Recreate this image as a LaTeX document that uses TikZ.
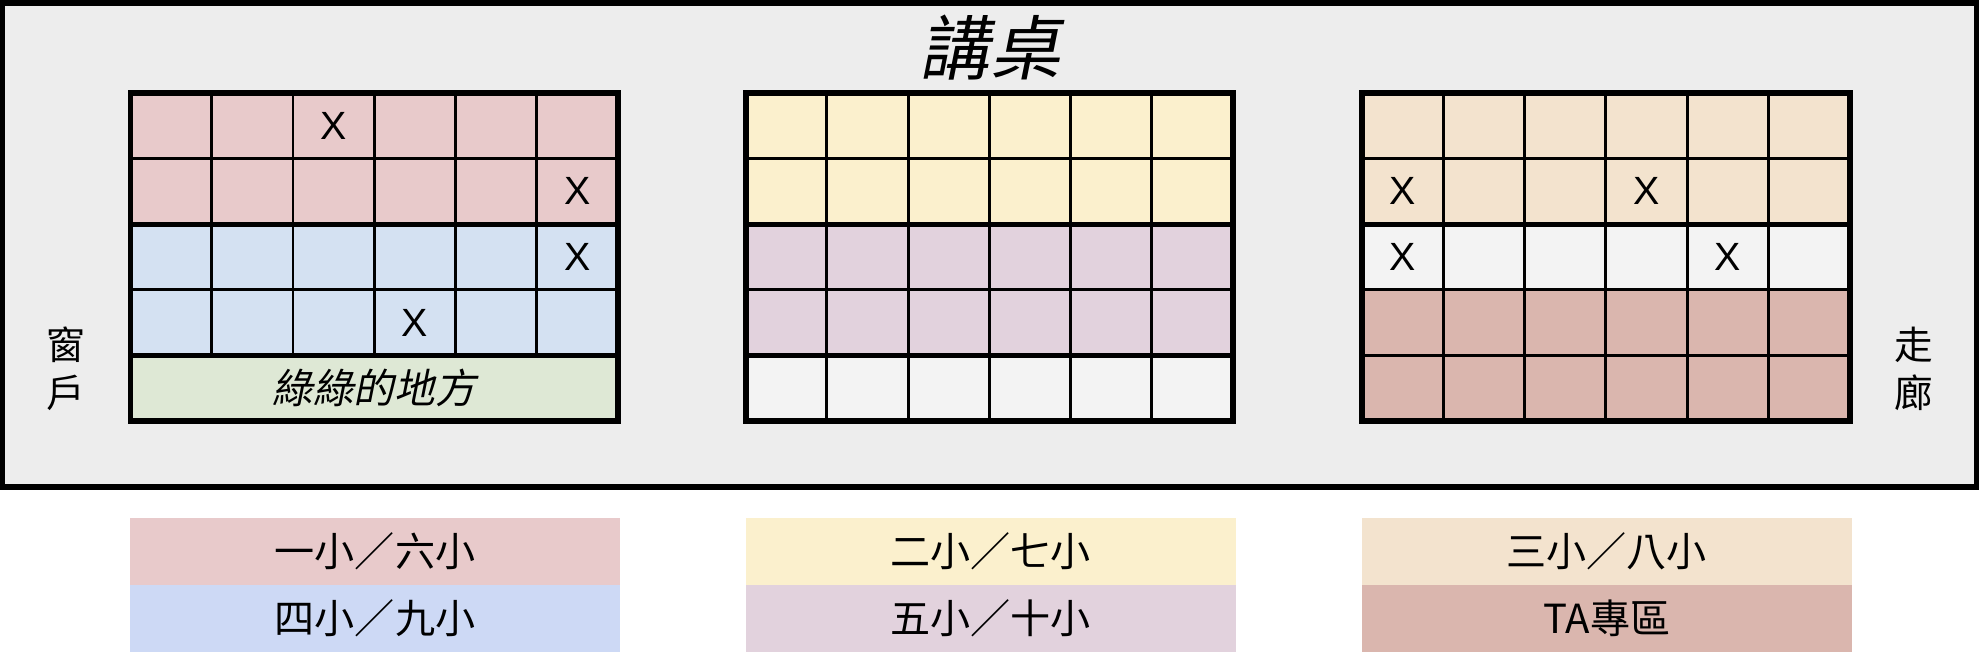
\documentclass[tikz,border=0pt]{standalone}
\usepackage{fontspec}
\setmainfont{Noto Sans CJK TC}
\newfontfamily\slantcjk[FakeSlant=0.2]{Noto Sans CJK TC}
\newfontfamily\seatfont{Liberation Sans}

\definecolor{roomgray}{HTML}{EDEDED}
\definecolor{pinkseat}{HTML}{E8CACB}
\definecolor{blueseat}{HTML}{D4E1F2}
\definecolor{bluekey}{HTML}{CDD9F5}
\definecolor{greenarea}{HTML}{DEE8D5}
\definecolor{yellowseat}{HTML}{FBF0CD}
\definecolor{mauveseat}{HTML}{E2D2DD}
\definecolor{emptyseat}{HTML}{F3F3F3}
\definecolor{beigeseat}{HTML}{F3E3CE}
\definecolor{taseat}{HTML}{DAB6AE}

\begin{document}
\begin{tikzpicture}[x=0.01cm,y=-0.01cm,
    roomframe/.style={draw=black,fill=roomgray,line width=1.7pt},
    blockframe/.style={draw=black,line width=1.7pt},
    rowsplit/.style={draw=black,line width=1.45pt},
    seatline/.style={draw=black,line width=0.85pt},
    taken/.style={font=\fontsize{11.2pt}{13pt}\selectfont\seatfont,inner sep=0pt},
    side/.style={font=\fontsize{11pt}{13.7pt}\selectfont,align=center,inner sep=0pt},
    key/.style={minimum width=4.9cm,minimum height=0.67cm,inner sep=0pt,
      font=\fontsize{11.4pt}{13pt}\selectfont}]
  \useasboundingbox (0,0) rectangle (1979,657);
  \def\cw{81.25}
  \def\rh{65.6}

  % classroom
  \draw[roomframe] (2.5,3) rectangle (1976.5,486.5);
  \node[font=\fontsize{20pt}{24pt}\selectfont,inner sep=0pt] (desk) at (990,47.5) {\slantcjk 講桌};
  \node[side] (window) at (65.5,369) {窗\\戶};
  \node[side] (hall) at (1913.5,369) {走\\廊};

  % left block
  \foreach \c [count=\r from 0] in {pinkseat,pinkseat,blueseat,blueseat,greenarea}
    \fill[\c] (130.5,93+\r*\rh) rectangle ++(487.5,\rh);
  \foreach \i in {1,...,5}
    \draw[seatline] (130.5+\i*\cw,93) -- ++(0,4*\rh);
  \foreach \r in {1,3}
    \draw[seatline] (130.5,93+\r*\rh) -- ++(487.5,0);
  \foreach \r in {2,4}
    \draw[rowsplit] (130.5,93+\r*\rh) -- ++(487.5,0);
  \draw[blockframe] (130.5,93) rectangle (618,421);
  \node[font=\fontsize{11.6pt}{13pt}\selectfont\slantcjk] (green) at (374.25,388.2) {綠綠的地方};

  % middle block
  \foreach \c [count=\r from 0] in {yellowseat,yellowseat,mauveseat,mauveseat,emptyseat}
    \fill[\c] (745.5,93+\r*\rh) rectangle ++(487.5,\rh);
  \foreach \i in {1,...,5}
    \draw[seatline] (745.5+\i*\cw,93) -- ++(0,5*\rh);
  \foreach \r in {1,3}
    \draw[seatline] (745.5,93+\r*\rh) -- ++(487.5,0);
  \foreach \r in {2,4}
    \draw[rowsplit] (745.5,93+\r*\rh) -- ++(487.5,0);
  \draw[blockframe] (745.5,93) rectangle (1233,421);

  % right block
  \foreach \c [count=\r from 0] in {beigeseat,beigeseat,emptyseat,taseat,taseat}
    \fill[\c] (1362,93+\r*\rh) rectangle ++(487.5,\rh);
  \foreach \i in {1,...,5}
    \draw[seatline] (1362+\i*\cw,93) -- ++(0,5*\rh);
  \foreach \r in {1,3,4}
    \draw[seatline] (1362,93+\r*\rh) -- ++(487.5,0);
  \draw[rowsplit] (1362,93+2*\rh) -- ++(487.5,0);
  \draw[blockframe] (1362,93) rectangle (1849.5,421);

  % taken seats
  \node[taken] (x1) at (130.5+2.5*\cw,93+0.5*\rh) {X};
  \node[taken] (x2) at (130.5+5.5*\cw,93+1.5*\rh) {X};
  \node[taken] (x3) at (130.5+5.5*\cw,93+2.5*\rh) {X};
  \node[taken] (x4) at (130.5+3.5*\cw,93+3.5*\rh) {X};
  \node[taken] (x5) at (1362+0.5*\cw,93+1.5*\rh) {X};
  \node[taken] (x6) at (1362+3.5*\cw,93+1.5*\rh) {X};
  \node[taken] (x7) at (1362+0.5*\cw,93+2.5*\rh) {X};
  \node[taken] (x8) at (1362+4.5*\cw,93+2.5*\rh) {X};

  % legend
  \node[key,fill=pinkseat] (k1) at (375,551.5) {一小／六小};
  \node[key,fill=bluekey] (k4) at (375,618.5) {四小／九小};
  \node[key,fill=yellowseat] (k2) at (990.75,551.5) {二小／七小};
  \node[key,fill=mauveseat] (k5) at (990.75,618.5) {五小／十小};
  \node[key,fill=beigeseat] (k3) at (1606.75,551.5) {三小／八小};
  \node[key,fill=taseat] (kta) at (1606.75,618.5) {TA專區};
\end{tikzpicture}
\end{document}
